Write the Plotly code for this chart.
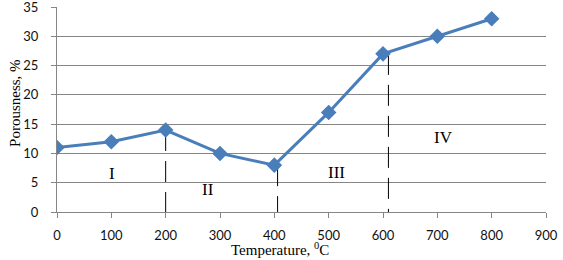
import plotly.graph_objects as go

temperature = [0, 100, 200, 300, 400, 500, 600, 700, 800]
porousness = [11, 12, 14, 10, 8, 17, 27, 30, 33]

boundary_x = [200, 406, 610]
boundary_top = [14, 8, 27]

stage_labels = ["I", "II", "III", "IV"]
stage_x = [101, 278, 515, 711]
stage_y = [6.6, 3.8, 6.8, 12.8]

x_title = "Temperature, <sup>0</sup>C"
y_title = "Porousness, %"

fig = go.Figure()

for bx, bt in zip(boundary_x, boundary_top):
    fig.add_trace(go.Scatter(
        x=[bx, bx], y=[bt, 0], mode="lines",
        line=dict(color="#000000", width=1, dash="21px,10px"),
        hoverinfo="skip", showlegend=False))

fig.add_trace(go.Scatter(
    x=temperature, y=porousness, mode="lines+markers",
    line=dict(color="#4A7EBB", width=3),
    marker=dict(symbol="diamond", size=12, color="#4A7EBB"),
    showlegend=False))

for t, x, y in zip(stage_labels, stage_x, stage_y):
    fig.add_annotation(x=x, y=y, text=t, showarrow=False,
                       font=dict(family="Liberation Serif", size=17, color="#000"))

fig.add_annotation(xref="paper", yref="paper", x=0.456, y=-0.18,
                   xanchor="center", yanchor="middle", showarrow=False,
                   text=x_title, font=dict(family="Liberation Serif", size=15, color="#000"))
fig.add_annotation(xref="paper", yref="paper", x=-0.086, y=0.532,
                   xanchor="center", yanchor="middle", showarrow=False, textangle=-90,
                   text=y_title, font=dict(family="Liberation Serif", size=15, color="#000"))

fig.update_layout(
    width=563, height=260,
    margin=dict(l=57, r=17, t=7, b=48, autoexpand=False),
    paper_bgcolor="white", plot_bgcolor="white",
    font=dict(family="Lato", size=13, color="#000"),
)
fig.update_xaxes(
    range=[0, 900], tickvals=list(range(0, 901, 100)),
    showgrid=False, zeroline=False, automargin=False,
    showline=True, linecolor="#868686", linewidth=1,
    ticks="outside", ticklen=5, tickcolor="#868686",
    ticklabelstandoff=6, ticklabeloverflow="allow",
    tickfont=dict(family="Lato", size=13, color="#111"),
)
fig.update_yaxes(
    range=[0, 35], tickvals=list(range(0, 36, 5)),
    showgrid=True, gridcolor="#868686", gridwidth=1, zeroline=False,
    automargin=False,
    showline=True, linecolor="#868686", linewidth=1,
    ticks="outside", ticklen=5, tickcolor="#868686",
    ticklabelstandoff=10, ticklabeloverflow="allow",
    tickfont=dict(family="Lato", size=13, color="#111"),
)

fig.write_html("out.html", config={"displayModeBar": False},
               post_script="document.body.style.margin='0';document.body.style.padding='0';")
